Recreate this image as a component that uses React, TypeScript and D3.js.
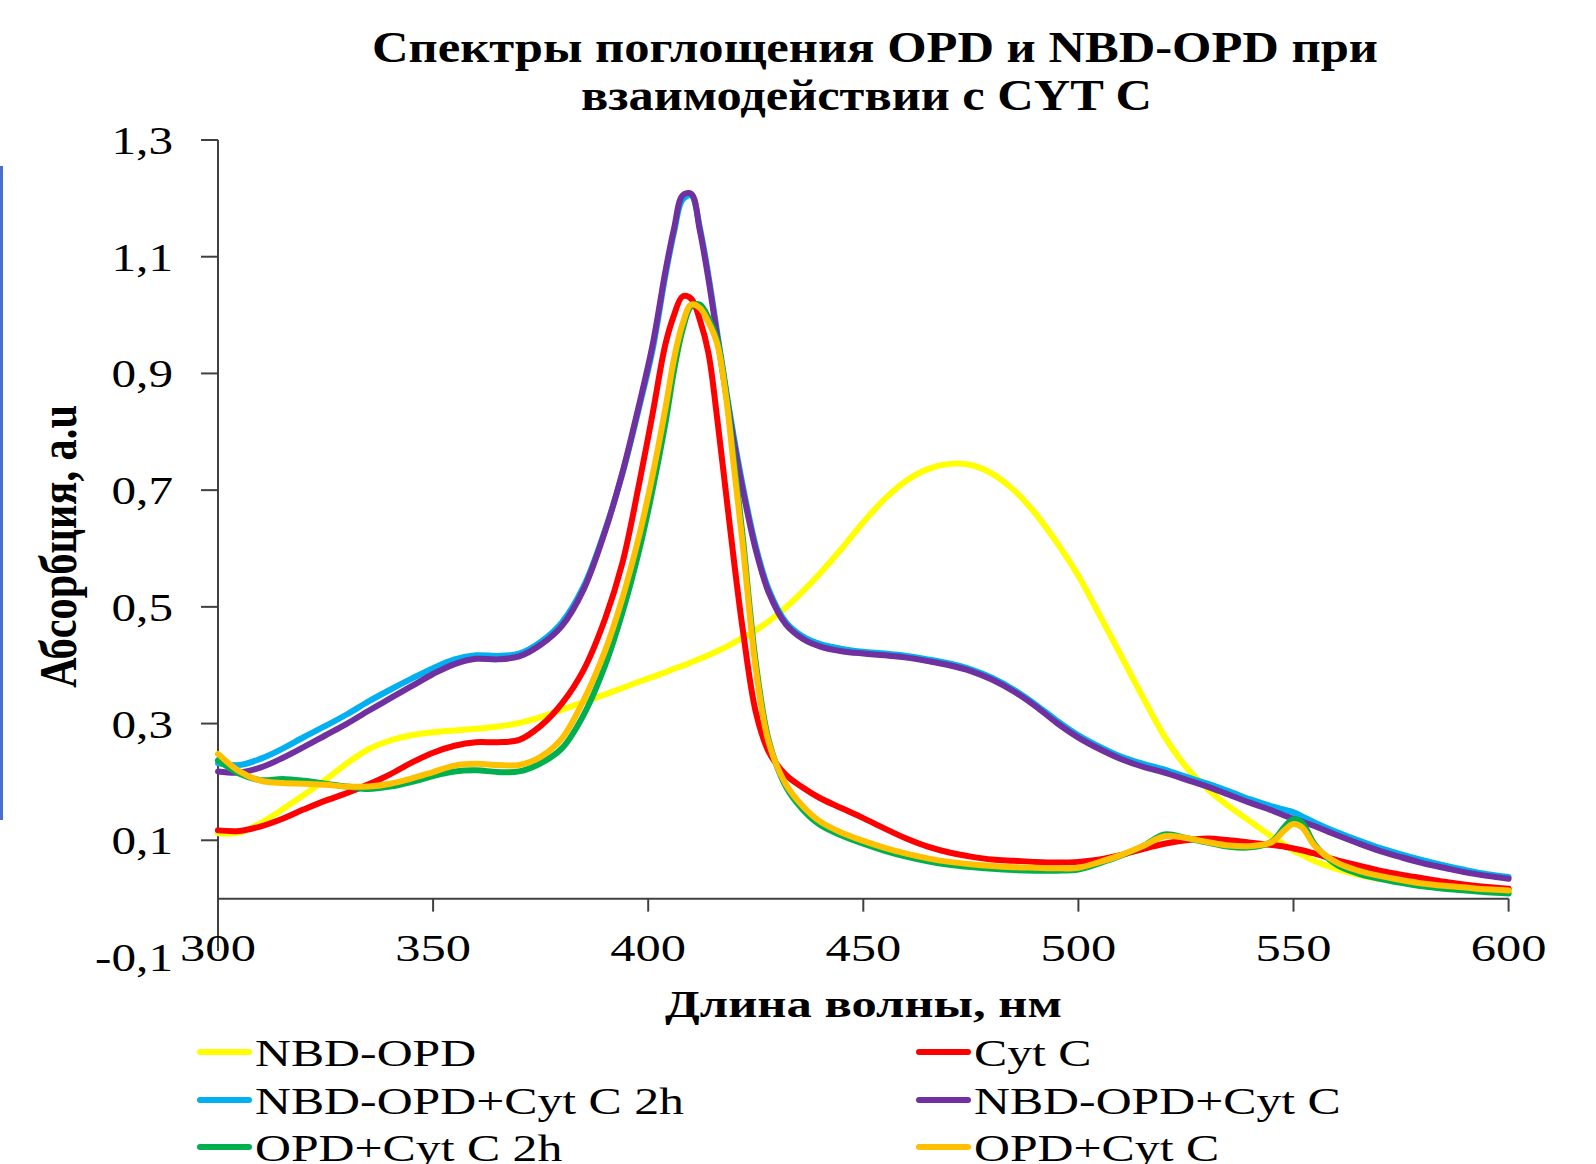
import * as d3 from "d3";

// wavelength grid (nm), denser around the Soret band
const wavelengths = [
  300, 305, 310, 315, 320, 325, 330, 335, 340, 345, 350, 355, 360, 365, 370, 375, 380, 385, 390,
  394, 398, 401, 404, 406, 408, 410, 412, 414, 416, 418, 420, 422, 425, 428, 432, 436,
  440, 445, 450, 455, 460, 465, 470, 475, 480, 485, 490, 495, 500, 505, 510, 515, 520, 525, 530, 535, 540, 545,
  548, 550, 552, 555, 560, 565, 570, 575, 580, 585, 590, 595, 600,
];

const nbdOpd = [
  0.112, 0.113, 0.130, 0.153, 0.178, 0.204, 0.232, 0.256, 0.271, 0.280, 0.285, 0.288, 0.291, 0.295, 0.301, 0.311, 0.324, 0.337, 0.350,
  0.361, 0.372, 0.380, 0.388, 0.394, 0.399, 0.405, 0.411, 0.417, 0.424, 0.431, 0.439, 0.447, 0.460, 0.475, 0.499, 0.527,
  0.558, 0.600, 0.645, 0.685, 0.716, 0.736, 0.745, 0.743, 0.728, 0.700, 0.660, 0.610, 0.553, 0.485, 0.415, 0.345, 0.278, 0.226, 0.188, 0.158, 0.132, 0.106,
  0.092, 0.082, 0.075, 0.064, 0.051, 0.041, 0.034, 0.028, 0.023, 0.019, 0.016, 0.014, 0.012,
];

const cytC = [
  0.117, 0.116, 0.124, 0.137, 0.153, 0.168, 0.181, 0.196, 0.213, 0.233, 0.250, 0.262, 0.268, 0.268, 0.272, 0.296, 0.335, 0.392, 0.480,
  0.575, 0.715, 0.830, 0.950, 1.000, 1.032, 1.028, 0.992, 0.935, 0.825, 0.700, 0.575, 0.460, 0.320, 0.252, 0.212, 0.190,
  0.172, 0.155, 0.138, 0.120, 0.103, 0.089, 0.079, 0.072, 0.067, 0.065, 0.063, 0.062, 0.063, 0.067, 0.075, 0.085, 0.094, 0.100, 0.103, 0.100, 0.096, 0.092,
  0.089, 0.086, 0.083, 0.077, 0.066, 0.057, 0.048, 0.041, 0.035, 0.029, 0.024, 0.020, 0.017,
];

const nbdOpdCytC2h = [
  0.232, 0.229, 0.240, 0.257, 0.277, 0.296, 0.316, 0.338, 0.358, 0.377, 0.395, 0.410, 0.417, 0.416, 0.420, 0.440, 0.474, 0.535, 0.632,
  0.728, 0.845, 0.940, 1.068, 1.142, 1.198, 1.205, 1.150, 1.068, 0.972, 0.877, 0.787, 0.707, 0.604, 0.530, 0.474, 0.449,
  0.436, 0.428, 0.423, 0.420, 0.416, 0.410, 0.403, 0.393, 0.378, 0.358, 0.333, 0.305, 0.280, 0.260, 0.243, 0.231, 0.221, 0.209, 0.197, 0.184, 0.170, 0.158,
  0.152, 0.148, 0.141, 0.130, 0.114, 0.100, 0.087, 0.076, 0.066, 0.057, 0.049, 0.042, 0.037,
];

const nbdOpdCytC = [
  0.218, 0.216, 0.225, 0.241, 0.260, 0.280, 0.300, 0.322, 0.343, 0.364, 0.385, 0.402, 0.411, 0.410, 0.415, 0.435, 0.468, 0.530, 0.630,
  0.730, 0.850, 0.948, 1.075, 1.148, 1.205, 1.208, 1.145, 1.062, 0.965, 0.870, 0.780, 0.700, 0.598, 0.525, 0.470, 0.445,
  0.432, 0.424, 0.420, 0.417, 0.413, 0.407, 0.400, 0.390, 0.375, 0.355, 0.330, 0.301, 0.276, 0.256, 0.239, 0.226, 0.216, 0.204, 0.192, 0.178, 0.164, 0.151,
  0.142, 0.137, 0.132, 0.124, 0.109, 0.095, 0.082, 0.071, 0.061, 0.053, 0.045, 0.039, 0.034,
];

const opdCytC2h = [
  0.237, 0.214, 0.203, 0.205, 0.202, 0.197, 0.192, 0.188, 0.192, 0.200, 0.210, 0.218, 0.220, 0.217, 0.218, 0.232, 0.258, 0.315, 0.400,
  0.490, 0.600, 0.700, 0.815, 0.905, 0.975, 1.015, 1.018, 0.995, 0.958, 0.872, 0.748, 0.618, 0.405, 0.272, 0.192, 0.152,
  0.126, 0.108, 0.094, 0.082, 0.072, 0.064, 0.058, 0.054, 0.051, 0.049, 0.048, 0.048, 0.050, 0.061, 0.074, 0.090, 0.110, 0.104, 0.096, 0.089, 0.088, 0.098,
  0.124, 0.136, 0.130, 0.092, 0.058, 0.043, 0.034, 0.027, 0.021, 0.017, 0.014, 0.011, 0.009,
];

const opdCytC = [
  0.248, 0.218, 0.202, 0.198, 0.197, 0.195, 0.192, 0.192, 0.197, 0.206, 0.217, 0.228, 0.231, 0.229, 0.229, 0.243, 0.275, 0.340, 0.425,
  0.515, 0.625, 0.725, 0.840, 0.925, 0.985, 1.018, 1.012, 0.988, 0.952, 0.865, 0.735, 0.605, 0.395, 0.268, 0.196, 0.158,
  0.132, 0.113, 0.099, 0.087, 0.077, 0.069, 0.063, 0.059, 0.056, 0.054, 0.053, 0.052, 0.053, 0.063, 0.075, 0.090, 0.107, 0.104, 0.097, 0.091, 0.090, 0.097,
  0.118, 0.128, 0.122, 0.090, 0.062, 0.048, 0.039, 0.032, 0.026, 0.022, 0.019, 0.016, 0.014,
];

const seriesNames = ["NBD-OPD", "Cyt C", "NBD-OPD+Cyt C 2h", "NBD-OPD+Cyt C", "OPD+Cyt C 2h", "OPD+Cyt C"];
const seriesValues = [nbdOpd, cytC, nbdOpdCytC2h, nbdOpdCytC, opdCytC2h, opdCytC];
const seriesColors = ["#FFFF00", "#FF0000", "#00B0F0", "#7030A0", "#00B050", "#FFC000"];

const xTicks = [300, 350, 400, 450, 500, 550, 600];
const yTicks = [1.3, 1.1, 0.9, 0.7, 0.5, 0.3, 0.1, -0.1];
const yTickLabels = ["1,3", "1,1", "0,9", "0,7", "0,5", "0,3", "0,1", "-0,1"];

const titleLines = ["Спектры поглощения OPD и NBD-OPD при", "взаимодействии с CYT C"];
const xTitle = "Длина волны, нм";
const yTitle = "Абсорбция, a.u";

const FONT = "'Liberation Serif', 'Times New Roman', serif";
const AXIS = "#404040";

export default function App() {
  const width = 1596;
  const height = 1164;

  const x = d3.scaleLinear().domain([300, 600]).range([218, 1508.6]);
  const y = d3.scaleLinear().domain([-0.1, 1.3]).range([957, 140]);

  const line = d3
    .line<number>()
    .x((_, i) => x(wavelengths[i]))
    .y((d) => y(d))
    .curve(d3.curveCatmullRom.alpha(0.5));

  const legendCols = [197, 916];
  const legendRows = [1052, 1100, 1147];

  return (
    <svg
      width={width}
      height={height}
      style={{ position: "absolute", left: 0, top: 0, background: "#fff" }}
      fontFamily={FONT}
    >
      <rect x={0} y={0} width={width} height={height} fill="#fff" />
      {/* slide edge artefact on the left */}
      <rect x={0} y={166} width={3} height={654} fill="#4a6fd0" />

      {/* title */}
      <text x={372} y={62} fontSize={44} fontWeight="bold" textLength={1006} lengthAdjust="spacingAndGlyphs">
        {titleLines[0]}
      </text>
      <text x={581} y={110} fontSize={44} fontWeight="bold" textLength={571} lengthAdjust="spacingAndGlyphs">
        {titleLines[1]}
      </text>

      {/* axes */}
      <line x1={x(300)} x2={x(300)} y1={y(1.3)} y2={y(-0.1) - 6} stroke={AXIS} strokeWidth={2} />
      <line x1={x(300)} x2={x(600)} y1={y(0)} y2={y(0)} stroke={AXIS} strokeWidth={2} />
      {yTicks.map((t, i) => (
        <g key={`yt-${i}`}>
          {t > 0 && <line x1={x(300) - 17} x2={x(300)} y1={y(t)} y2={y(t)} stroke={AXIS} strokeWidth={2} />}
          <text
            transform={`translate(173, ${y(t) + 14}) scale(1.23, 1)`}
            textAnchor="end"
            fontSize={40}
          >
            {yTickLabels[i]}
          </text>
        </g>
      ))}
      {xTicks.map((t) => (
        <g key={`xt-${t}`}>
          <line x1={x(t)} x2={x(t)} y1={y(0)} y2={y(0) + 13} stroke={AXIS} strokeWidth={2} />
          <text transform={`translate(${x(t)}, 961) scale(1.33, 1)`} textAnchor="middle" fontSize={38}>
            {t}
          </text>
        </g>
      ))}

      {/* axis titles */}
      <text x={863.5} y={1017} fontSize={38} fontWeight="bold" textAnchor="middle" textLength={397} lengthAdjust="spacingAndGlyphs">
        {xTitle}
      </text>
      <text
        transform={`translate(76, 546.5) rotate(-90) scale(1, 1.3)`}
        fontSize={40}
        fontWeight="bold"
        textAnchor="middle"
        textLength={283}
        lengthAdjust="spacingAndGlyphs"
      >
        {yTitle}
      </text>

      {/* curves */}
      {seriesValues.map((vals, i) => (
        <path
          key={seriesNames[i]}
          d={line(vals) ?? ""}
          fill="none"
          stroke={seriesColors[i]}
          strokeWidth={6}
          strokeLinejoin="round"
          strokeLinecap="round"
        />
      ))}

      {/* legend */}
      {seriesNames.map((name, i) => {
        const lx = legendCols[i % 2];
        const ly = legendRows[Math.floor(i / 2)];
        return (
          <g key={`lg-${name}`}>
            <line x1={lx + 3} x2={lx + 52} y1={ly} y2={ly} stroke={seriesColors[i]} strokeWidth={6} strokeLinecap="round" />
            <text transform={`translate(${lx + 58}, ${ly + 14}) scale(1.31, 1)`} fontSize={38}>
              {name}
            </text>
          </g>
        );
      })}
    </svg>
  );
}
